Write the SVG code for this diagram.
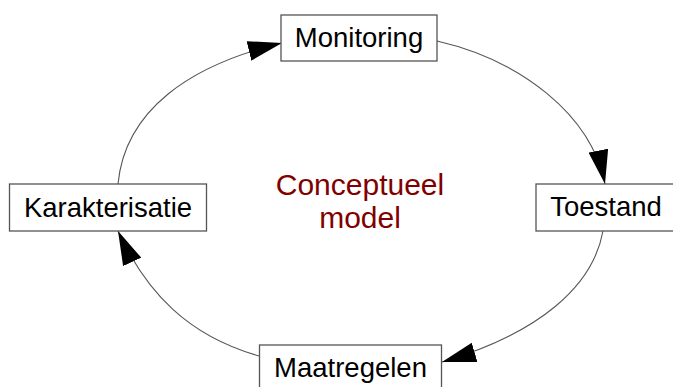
<svg xmlns="http://www.w3.org/2000/svg" width="673" height="387" viewBox="0 0 673 387">
<style>
.box{fill:#fff;stroke:#555;stroke-width:1.3}
.lbl{font-family:"Liberation Sans",Arial,sans-serif;font-size:27.5px;fill:#000;text-anchor:middle}
.title{font-family:"Liberation Sans",Arial,sans-serif;font-size:30px;fill:#800000;text-anchor:middle}
.conn{fill:none;stroke:#555;stroke-width:1.1}
</style>
<defs>
<marker id="arr" markerUnits="userSpaceOnUse" viewBox="0 0 34 20" markerWidth="34" markerHeight="20" refX="34" refY="10" orient="auto">
<path d="M0,0 L34,10 L0,20 Z" fill="#000"/>
</marker>
</defs>
<rect width="673" height="387" fill="#fff"/>
<g id="connectors">
<path class="conn" d="M118,184 C125,110 190,65 282,43" marker-end="url(#arr)"/>
<path class="conn" d="M437,41 C520,60 591,114 605,184" marker-end="url(#arr)"/>
<path class="conn" d="M603,231 C593,286 540,333 442,362" marker-end="url(#arr)"/>
<path class="conn" d="M259,356 C189,336 147,294 118,231" marker-end="url(#arr)"/>
</g>
<g id="monitoring">
<rect class="box" x="281" y="15" width="156" height="46"/>
<text class="lbl" x="359" y="46.5">Monitoring</text>
</g>
<g id="toestand">
<rect class="box" x="536" y="184" width="140" height="47"/>
<text class="lbl" x="606" y="216">Toestand</text>
</g>
<g id="maatregelen">
<rect class="box" x="259.5" y="345" width="182" height="47"/>
<text class="lbl" x="350.5" y="376.5">Maatregelen</text>
</g>
<g id="karakterisatie">
<rect class="box" x="9.5" y="184" width="197" height="47"/>
<text class="lbl" x="108" y="216.5">Karakterisatie</text>
</g>
<g id="conceptueel-model">
<text class="title" x="360" y="195">Conceptueel</text>
<text class="title" x="360" y="228">model</text>
</g>
</svg>
